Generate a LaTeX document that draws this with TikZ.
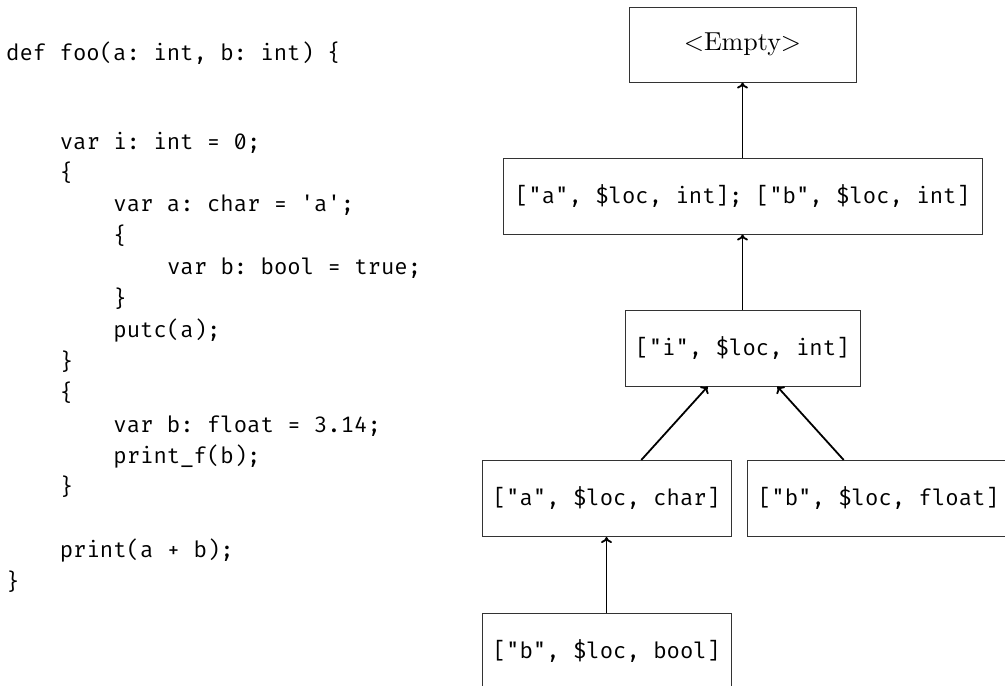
\documentclass[tikz,border=0pt]{standalone}
\usepackage{fontspec}
\setmonofont{Fira Mono}[RawFeature=+zero]
\newfontfamily\lmten{lmroman10-regular}[Extension=.otf]
\usetikzlibrary{arrows.meta}
\begin{document}
\begin{tikzpicture}[x=1pt, y=-1pt,
  code/.style={anchor=base west, inner sep=0pt, font=\ttfamily\fontsize{22.3}{26}\selectfont},
  scopebox/.style={draw=black!80, line width=1pt, minimum height=76pt, inner sep=0pt,
    font=\ttfamily\fontsize{22.3}{26}\selectfont},
  link/.style={line width=1.8pt, -{To[length=6pt,width=11pt]}}]
\useasboundingbox (0,0) rectangle (1005,686);
\clip (0,0) rectangle (1005,686);

% source listing, one node per line (indent step = 4 characters)
\def\ind{53.6}
\def\lsp{31.45}
\def\top{149}
\node[code] (l0)  at (6,60) {def foo(a: int, b: int) \{};
\node[code] (l1)  at (6+\ind,\top) {var i: int = 0;};
\node[code] (l2)  at (6+\ind,\top+\lsp) {\{};
\node[code] (l3)  at (6+2*\ind,\top+2*\lsp) {var a: char = 'a';};
\node[code] (l4)  at (6+2*\ind,\top+3*\lsp) {\{};
\node[code] (l5)  at (6+3*\ind,\top+4*\lsp) {var b: bool = true;};
\node[code] (l6)  at (6+2*\ind,\top+5*\lsp) {\}};
\node[code] (l7)  at (6+2*\ind,\top+6*\lsp) {putc(a);};
\node[code] (l8)  at (6+\ind,\top+7*\lsp) {\}};
\node[code] (l9)  at (6+\ind,\top+8*\lsp) {\{};
\node[code] (l10) at (6+2*\ind,\top+9*\lsp) {var b: float = 3.14;};
\node[code] (l11) at (6+2*\ind,\top+10*\lsp) {print\_f(b);};
\node[code] (l12) at (6+\ind,\top+11*\lsp) {\}};
\node[code] (l13) at (6+\ind,\top+13*\lsp) {print(a + b);};
\node[code] (l14) at (6,\top+14*\lsp) {\}};

% scope tree
\node[scopebox, minimum width=227pt, minimum height=75pt,
      font=\lmten\fontsize{26}{30}\selectfont] (empty) at (742.5,44.5) {\textless Empty\textgreater};
\node[scopebox, minimum width=479pt] (ab) at (742.5,196) {["a", \$loc, int]; ["b", \$loc, int]};
\node[scopebox, minimum width=235pt] (i)  at (742.5,348) {["i", \$loc, int]};
\node[scopebox, minimum width=249pt] (ac) at (606.5,498.5) {["a", \$loc, char]};
\node[scopebox, minimum width=263pt] (bf) at (878.5,498.5) {["b", \$loc, float]};
\node[scopebox, minimum width=249pt] (bb) at (606.5,651) {["b", \$loc, bool]};

\draw[link] (ab) -- (empty);
\draw[link] (i) -- (ab);
\draw[link] (ac) -- (i);
\draw[link] (bf) -- (i);
\draw[link] (bb) -- (ac);
\end{tikzpicture}
\end{document}
